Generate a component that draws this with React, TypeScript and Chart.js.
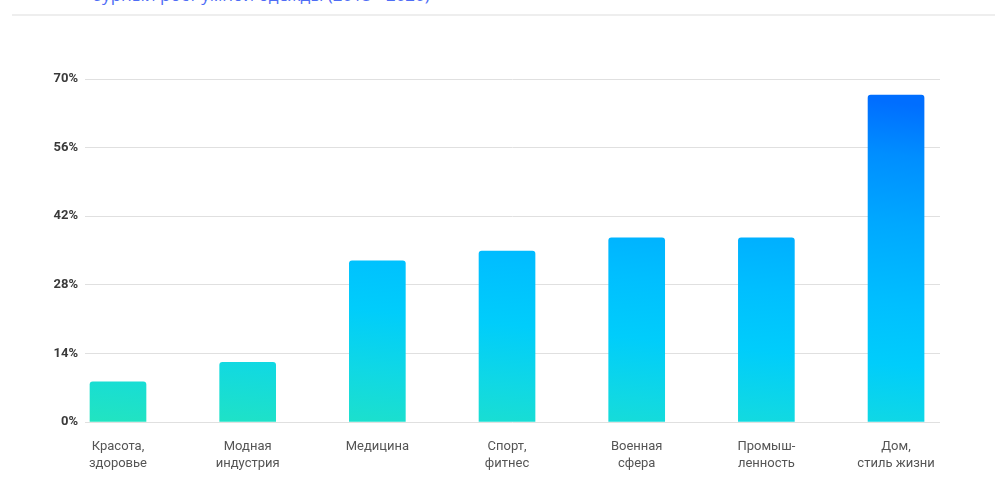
import React, { useEffect, useRef } from "react";
import { Chart, registerables } from "chart.js";

Chart.register(...registerables);

// Market segments (two-line labels) and projected growth, %
const categories: string[][] = [
  ["Красота,", "здоровье"],
  ["Модная", "индустрия"],
  ["Медицина"],
  ["Спорт,", "фитнес"],
  ["Военная", "сфера"],
  ["Промыш-", "ленность"],
  ["Дом,", "стиль жизни"],
];
const growth: number[] = [8.2, 12.2, 32.9, 34.9, 37.6, 37.6, 66.7];
const yTicks: number[] = [0, 14, 28, 42, 56, 70];
const titleText = "бурный рост умной одежды (2015 - 2020)";

const FONT = "Roboto, 'Noto Sans', sans-serif";

export default function App() {
  const canvasRef = useRef<HTMLCanvasElement | null>(null);

  useEffect(() => {
    const canvas = canvasRef.current;
    if (!canvas) return;

    const barFill = (ctx: any) => {
      const chart = ctx.chart;
      const area = chart.chartArea;
      if (!area) return "#00c4ff";
      const w = area.right - area.left;
      const h = area.bottom - area.top;
      // mostly vertical sweep, leaning slightly to the right
      const a = 0.22;
      const b = 0.85;
      const ux = a / w;
      const uy = b / h;
      const len2 = 1 / (ux * ux + uy * uy);
      const X = ux * len2;
      const Y = uy * len2;
      const g = chart.ctx.createLinearGradient(
        area.left,
        area.bottom,
        area.left + X,
        area.bottom - Y
      );
      g.addColorStop(0, "#22e4c0");
      g.addColorStop(0.2, "#10d8e4");
      g.addColorStop(0.35, "#00cdfb");
      g.addColorStop(0.5, "#00bfff");
      g.addColorStop(0.7, "#00a8ff");
      g.addColorStop(0.87, "#008eff");
      g.addColorStop(1, "#006eff");
      return g;
    };

    const chart = new Chart(canvas, {
      type: "bar",
      data: {
        datasets: [
          {
            data: growth.map((v, i) => ({ x: i, y: v })),
            backgroundColor: barFill,
            borderWidth: 0,
            borderRadius: 3,
            borderSkipped: "start",
            barThickness: 56,
          },
        ],
      },
      options: {
        animation: false,
        responsive: false,
        maintainAspectRatio: false,
        layout: { padding: { top: 79, right: 55, bottom: 0, left: 0 } },
        plugins: {
          legend: { display: false },
          tooltip: { enabled: false },
        },
        scales: {
          x: {
            type: "linear",
            min: -0.2545,
            max: 6.339,
            offset: false,
            grid: { display: false, drawTicks: false, offset: false },
            border: { display: false },
            afterBuildTicks: (axis: any) => {
              axis.ticks = categories.map((_, i) => ({ value: i }));
            },
            afterFit: (axis: any) => {
              axis.height = 62;
            },
            ticks: {
              autoSkip: false,
              maxRotation: 0,
              minRotation: 0,
              padding: 16,
              color: "#555555",
              font: { family: FONT, size: 13, lineHeight: 1.3 },
              callback: (value: any) => categories[Number(value)] ?? "",
            },
          },
          y: {
            min: 0,
            max: 70,
            afterBuildTicks: (axis: any) => {
              axis.ticks = yTicks.map((v) => ({ value: v }));
            },
            afterFit: (axis: any) => {
              axis.width = 85;
            },
            grid: { color: "#e0e0e0", lineWidth: 1, drawTicks: false },
            border: { display: false },
            ticks: {
              padding: 7,
              color: "#3a3a3a",
              font: { family: FONT, size: 13, weight: "bold" },
              callback: (value: any) => `${value}%`,
            },
          },
        },
      },
    });

    return () => chart.destroy();
  }, []);

  return (
    <div
      style={{
        position: "absolute",
        left: 0,
        top: 0,
        width: 995,
        height: 484,
        overflow: "hidden",
        background: "#ffffff",
      }}
    >
      <div
        style={{
          position: "absolute",
          left: 92,
          top: -14,
          fontFamily: "'Open Sans', sans-serif",
          fontSize: 17,
          lineHeight: "17px",
          color: "#4f6df5",
          whiteSpace: "nowrap",
        }}
      >
        {titleText}
      </div>
      <div
        style={{
          position: "absolute",
          left: 12,
          top: 14,
          width: 983,
          height: 2,
          background: "#eeeeee",
        }}
      />
      <canvas
        ref={canvasRef}
        width={995}
        height={484}
        style={{ position: "absolute", left: 0, top: 0, display: "block" }}
      />
    </div>
  );
}
